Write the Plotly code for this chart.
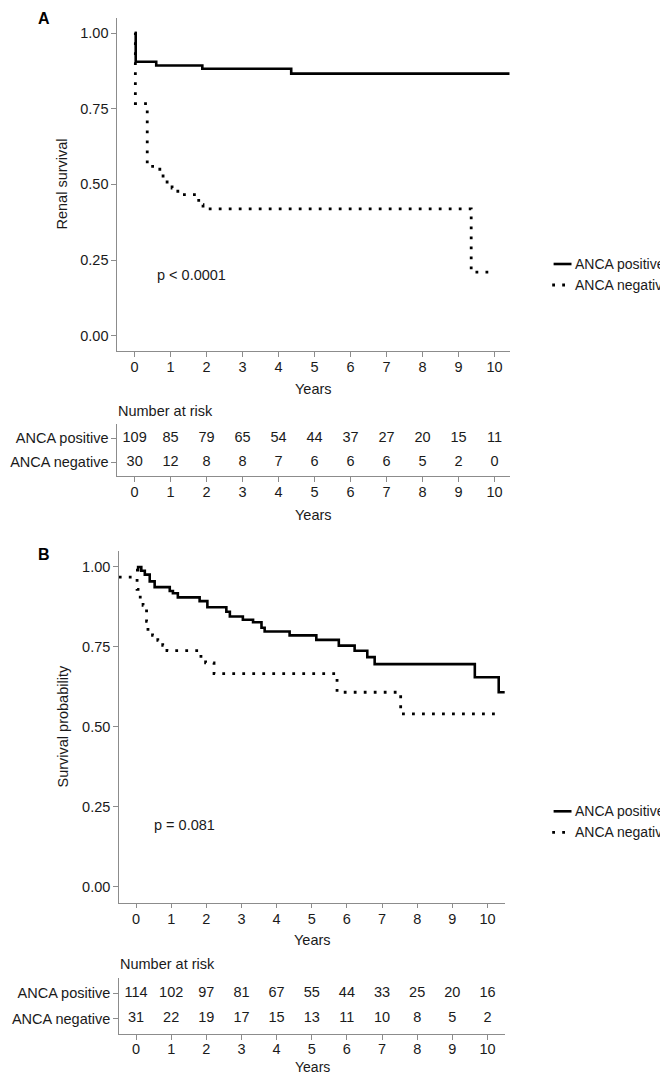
import plotly.graph_objects as go

# ---------------- data ----------------
years = [0, 1, 2, 3, 4, 5, 6, 7, 8, 9, 10]
groups = ["ANCA positive", "ANCA negative"]

# Panel A: renal survival (Kaplan-Meier steps: time, survival after step)
a_pos_t = [0.0, 0.03, 0.6, 1.88, 4.35, 10.42]
a_pos_s = [1.0, 0.905, 0.893, 0.882, 0.866, 0.866]
a_neg_t = [0.0, 0.02, 0.35, 0.5, 0.79, 1.04, 1.2, 1.78, 1.9, 9.35, 9.86]
a_neg_s = [1.0, 0.767, 0.567, 0.55, 0.508, 0.488, 0.466, 0.433, 0.419, 0.21, 0.21]

# Panel B: survival probability
b_pos_t = [0.0, 0.06, 0.15, 0.25, 0.39, 0.53, 0.96, 1.05, 1.19, 1.81, 2.03, 2.57, 2.67,
           3.04, 3.33, 3.57, 3.66, 4.37, 5.13, 5.77, 6.22, 6.58, 6.79, 9.64, 10.32, 10.49]
b_pos_s = [0.99, 1.0, 0.988, 0.976, 0.955, 0.937, 0.925, 0.918, 0.905, 0.893, 0.874, 0.86, 0.845,
           0.835, 0.827, 0.81, 0.798, 0.786, 0.772, 0.754, 0.738, 0.718, 0.696, 0.655, 0.608, 0.608]
b_neg_t = [-0.49, 0.03, 0.12, 0.2, 0.3, 0.34, 0.47, 0.62, 0.76, 0.88, 1.78, 1.98, 2.22,
           5.72, 7.53, 10.39]
b_neg_s = [0.968, 0.93, 0.90, 0.88, 0.83, 0.80, 0.786, 0.77, 0.755, 0.738, 0.72, 0.70, 0.666,
           0.608, 0.54, 0.54]

# Numbers at risk
a_risk_pos = [109, 85, 79, 65, 54, 44, 37, 27, 20, 15, 11]
a_risk_neg = [30, 12, 8, 8, 7, 6, 6, 6, 5, 2, 0]
b_risk_pos = [114, 102, 97, 81, 67, 55, 44, 33, 25, 20, 16]
b_risk_neg = [31, 22, 19, 17, 15, 13, 11, 10, 8, 5, 2]

p_a = "p < 0.0001"
p_b = "p = 0.081"

# ---------------- layout helpers ----------------
W, H = 668, 1075
FONT = "Liberation Sans, Arial, Helvetica, sans-serif"
TXT = "#1a1a1a"
AX = "#8c8c8c"
FS = 14.5


def px(xp):
    return xp / W


def py(yp):
    return 1 - yp / H


solid = dict(color="black", width=2.6)
dotted = dict(color="black", width=2.8, dash="2.8px,7.2px")

fig = go.Figure()

# curves
fig.add_trace(go.Scatter(x=a_pos_t, y=a_pos_s, mode="lines", line=solid, line_shape="hv",
                         name=groups[0], xaxis="x", yaxis="y"))
fig.add_trace(go.Scatter(x=a_neg_t, y=a_neg_s, mode="lines", line=dotted, line_shape="hv",
                         name=groups[1], xaxis="x", yaxis="y"))
fig.add_trace(go.Scatter(x=b_pos_t, y=b_pos_s, mode="lines", line=solid, line_shape="hv",
                         name=groups[0], xaxis="x3", yaxis="y3"))
fig.add_trace(go.Scatter(x=b_neg_t, y=b_neg_s, mode="lines", line=dotted, line_shape="hv",
                         name=groups[1], xaxis="x3", yaxis="y3"))

# risk tables
for vals, row, xa, ya in [(a_risk_pos, 1, "x2", "y2"), (a_risk_neg, 0, "x2", "y2"),
                          (b_risk_pos, 1, "x4", "y4"), (b_risk_neg, 0, "x4", "y4")]:
    fig.add_trace(go.Scatter(x=years, y=[row] * len(years), text=[str(v) for v in vals],
                             mode="text", textposition="middle center",
                             textfont=dict(family=FONT, size=FS, color=TXT),
                             cliponaxis=False, xaxis=xa, yaxis=ya, showlegend=False))

common = dict(showline=True, linecolor=AX, linewidth=1.2, ticks="outside", ticklen=4.5,
              tickcolor=AX, tickwidth=1.2, showgrid=False, zeroline=False,
              tickfont=dict(family=FONT, size=FS, color=TXT), fixedrange=True)
xcommon = dict(common, ticklabelstandoff=-2)

xr_a = [-0.49, 10.42]
xr_b = [-0.49, 10.51]
ytick = [0, 0.25, 0.5, 0.75, 1.0]
ytext = ["0.00", "0.25", "0.50", "0.75", "1.00"]

fig.update_layout(
    width=W, height=H, margin=dict(l=0, r=0, t=0, b=0),
    plot_bgcolor="white", paper_bgcolor="white", showlegend=False,
    font=dict(family=FONT, size=FS, color=TXT),
    xaxis=dict(xcommon, domain=[px(109), px(501.7)], range=xr_a, tickvals=years, anchor="y"),
    yaxis=dict(common, domain=[py(342.9), py(9.9)], range=[-0.05, 1.05], tickvals=ytick,
               ticktext=ytext, anchor="x"),
    xaxis2=dict(xcommon, domain=[px(109), px(501.7)], range=xr_a, tickvals=years, anchor="y2"),
    yaxis2=dict(common, domain=[py(468.3), py(416)], range=[-0.6, 1.6], tickvals=[1, 0],
                ticktext=groups, anchor="x2"),
    xaxis3=dict(xcommon, domain=[px(110.8), px(497.4)], range=xr_b, tickvals=years, anchor="y3"),
    yaxis3=dict(common, domain=[py(894.5), py(543)], range=[-0.05, 1.05], tickvals=ytick,
                ticktext=ytext, anchor="x3"),
    xaxis4=dict(xcommon, domain=[px(110.8), px(497.4)], range=xr_b, tickvals=years, anchor="y4",
                ticklabelstandoff=-3),
    yaxis4=dict(common, domain=[py(1026.3), py(969.7)], range=[-0.6, 1.6], tickvals=[1, 0],
                ticktext=groups, anchor="x4"),
)


def ann(text, x, y, xanchor="center", size=FS, bold=False, angle=0):
    fig.add_annotation(text=("<b>%s</b>" % text) if bold else text, x=px(x), y=py(y),
                       xref="paper", yref="paper", xanchor=xanchor, yanchor="middle",
                       showarrow=False, textangle=angle, borderpad=0,
                       font=dict(family=FONT, size=size, color="black" if bold else TXT))


# panel letters
ann("A", 36, 11, size=16, bold=True)
ann("B", 36, 546, size=16, bold=True)
# axis titles
ann("Renal survival", 53.5, 176, angle=-90)
ann("Survival probability", 54, 718.5, angle=-90)
ann("Years", 305, 381)
ann("Years", 305, 506.7)
ann("Years", 304, 931.7)
ann("Years", 304, 1059, size=14)
ann("Number at risk", 109.3, 403, xanchor="left")
ann("Number at risk", 111, 955.5, xanchor="left")
# p values
ann(p_a, 148, 267, xanchor="left")
ann(p_b, 145, 816.7, xanchor="left")

# legends
for ytop in (256, 803.3):
    fig.add_shape(type="line", xref="paper", yref="paper", x0=px(545.6), x1=px(563.5),
                  y0=py(ytop), y1=py(ytop), line=dict(color="black", width=2.6))
    fig.add_shape(type="line", xref="paper", yref="paper", x0=px(544.2), x1=px(564),
                  y0=py(ytop + 21), y1=py(ytop + 21),
                  line=dict(color="black", width=2.8, dash="2.8px,7.2px"))
    ann(groups[0], 566, ytop, xanchor="left", size=14)
    ann(groups[1], 566, ytop + 21, xanchor="left", size=14)

fig.write_html("out.html")
